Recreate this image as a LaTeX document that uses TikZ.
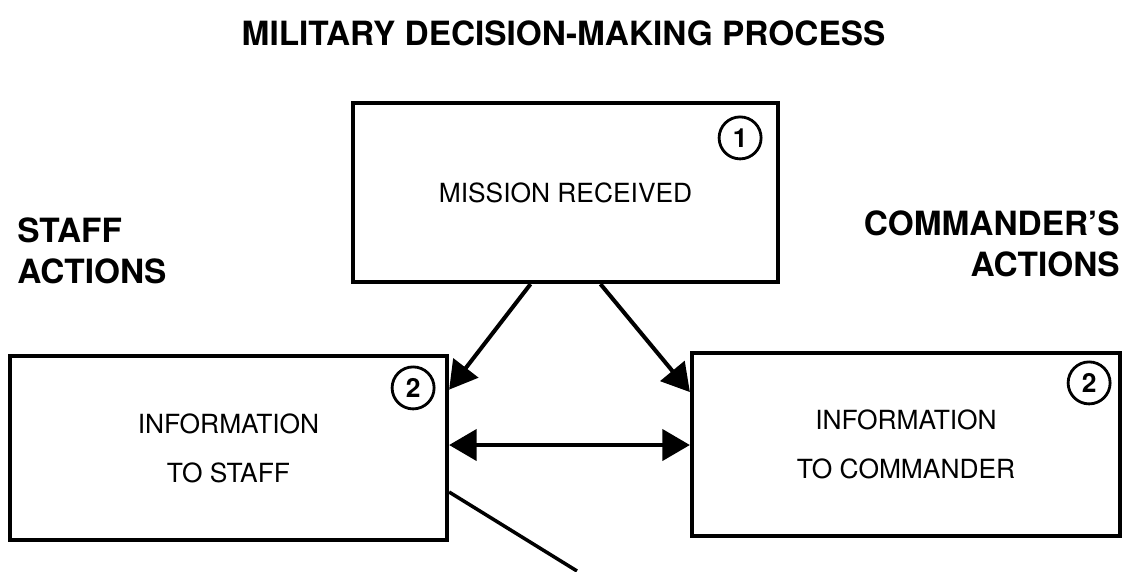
\documentclass[tikz,border=0pt]{standalone}
\usepackage{fontspec}
\setmainfont{TeX Gyre Heros}
\usetikzlibrary{positioning,arrows.meta,calc}

\begin{document}
\begin{tikzpicture}[
    block/.style={rectangle, draw, line width=2.4pt, align=center, font=\fontsize{15}{28}\selectfont},
    num/.style={circle, draw, line width=1.6pt, minimum size=0.84cm, inner sep=0pt, font=\fontsize{15}{15}\selectfont\bfseries},
    heading/.style={inner sep=0pt, font=\fontsize{19}{23.4}\selectfont\bfseries},
    arrow/.style={line width=2.3pt, ->, >={Triangle[length=0.55cm, width=0.62cm]}}]

    \useasboundingbox (0,0) rectangle (22.52,-11.42);

    \node[heading, anchor=north] (title) at (11.27,-0.4) {MILITARY DECISION-MAKING PROCESS};

    \node[block, minimum width=8.5cm, minimum height=3.58cm] (mission) at (11.31,-3.85) {MISSION RECEIVED};
    \node[block, minimum width=8.74cm, minimum height=3.68cm] (staff) at (4.57,-8.96) {INFORMATION\\TO STAFF};
    \node[block, minimum width=8.56cm, minimum height=3.66cm] (cdr) at (18.12,-8.89) {INFORMATION\\TO COMMANDER};

    \node[num] (n1) at ([shift={(-0.8,-0.74)}]mission.north east) {1};
    \node[num] (n2a) at ([shift={(-0.72,-0.68)}]staff.north east) {2};
    \node[num] (n2b) at ([shift={(-0.66,-0.64)}]cdr.north east) {2};

    % side headings
    \node[heading, align=left, anchor=north west] (staffact) at (0.34,-4.34) {STAFF\\ACTIONS};
    \node[heading, align=right, anchor=north east] (cdract) at (22.4,-4.2) {COMMANDER'S\\ACTIONS};

    \draw[arrow] ([xshift=-0.7cm]mission.south) -- ($(staff.north east)!0.19!(staff.south east)$);
    \draw[arrow] ([xshift=0.7cm]mission.south) -- ($(cdr.north west)!0.22!(cdr.south west)$);
    \draw[arrow, <->] ([yshift=0.06cm]staff.east) -- ([yshift=0.06cm]staff.east -| cdr.west);

    \coordinate (out) at (11.54,-11.42);
    \draw[line width=2pt] ([yshift=-0.88cm]staff.east) -- (out);

\end{tikzpicture}
\end{document}
